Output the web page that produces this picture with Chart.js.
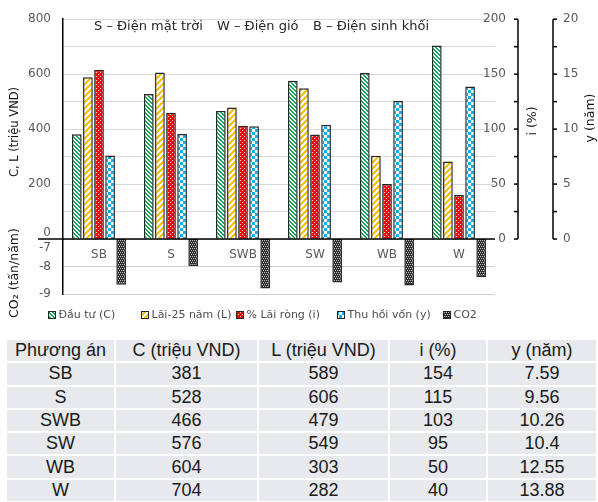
<!DOCTYPE html>
<html>
<head>
<meta charset="utf-8">
<script src="https://cdn.jsdelivr.net/npm/chart.js@4.4.1/dist/chart.umd.min.js"></script>
<style>
  html, body { margin: 0; padding: 0; background: #fff; width: 598px; height: 502px; overflow: hidden; }
  #wrap { position: relative; width: 598px; height: 502px; }
  #chart { position: absolute; left: 0; top: 0; }
  #tbl {
    position: absolute; left: 5px; top: 338px;
    border-collapse: separate; border-spacing: 2px;
    font-family: "Liberation Sans", Arial, sans-serif; font-size: 18px; color: #1a1a1a;
  }
  #tbl td { background: #e7e9ec; height: 21.3px; padding: 0; text-align: center; line-height: 21px; white-space: nowrap; }
</style>
</head>
<body>
<div id="wrap">
  <canvas id="chart" width="598" height="336"></canvas>
  <table id="tbl"></table>
</div>
<script>
// Scenarios and their results
const categories = ['SB', 'S', 'SWB', 'SW', 'WB', 'W'];
const investC   = [381, 528, 466, 576, 604, 704];      // triệu VND
const profitL   = [589, 606, 479, 549, 303, 282];      // triệu VND
const netRateI  = [154, 115, 103, 95, 50, 40];         // %
const paybackY  = [7.59, 9.56, 10.26, 10.4, 12.55, 13.88]; // năm
const co2       = [-8.66, -7.98, -8.80, -8.58, -8.69, -8.39]; // tấn/năm

const seriesNames = ['Đầu tư (C)', 'Lãi-25 năm (L)', '% Lãi ròng (i)', 'Thu hồi vốn (y)', 'CO2'];
const sourceNotes = ['S – Điện mặt trời', 'W – Điện gió', 'B – Điện sinh khối'];
const tableHeader = ['Phương án', 'C (triệu VND)', 'L (triệu VND)', 'i (%)', 'y (năm)'];
const leftTicksCL  = [0, 200, 400, 600, 800];
const leftTicksCO2 = [-7, -8, -9];
const ticksI = [0, 50, 100, 150, 200];
const ticksY = [0, 5, 10, 15, 20];

const FONT = '"DejaVu Sans", Verdana, sans-serif';
const GREY_TEXT = '#595959';

// ---------- fill patterns ----------
function tile(w, h, paint) {
  const c = document.createElement('canvas');
  c.width = w; c.height = h;
  const g = c.getContext('2d');
  paint(g, w, h);
  return g.createPattern(c, 'repeat');
}
const patGreen = tile(4, 4, (g, w, h) => {
  g.fillStyle = '#fff'; g.fillRect(0, 0, w, h);
  g.fillStyle = '#00a651';
  for (let y = 0; y < h; y++) { g.fillRect(y % w, y, 1, 1); g.fillRect((y + 1) % w, y, 1, 1); }
});
const patYellow = tile(6, 6, (g, w, h) => {
  g.fillStyle = '#fff'; g.fillRect(0, 0, w, h);
  g.fillStyle = '#ffc000';
  for (let y = 0; y < h; y++) {
    for (let k = 0; k < 3; k++) g.fillRect(((w - 1 - y) + k + w) % w, y, 1, 1);
  }
});
const patRed = tile(4, 4, (g, w, h) => {
  g.fillStyle = '#ff0000'; g.fillRect(0, 0, w, h);
  g.fillStyle = '#ffd6d6';
  g.fillRect(0, 0, 1, 1); g.fillRect(2, 2, 1, 1);
});
const patBlue = tile(6, 6, (g, w, h) => {
  g.fillStyle = '#fff'; g.fillRect(0, 0, w, h);
  g.fillStyle = '#00b0f0';
  g.fillRect(0, 0, 3, 3); g.fillRect(3, 3, 3, 3);
});
const patDark = tile(4, 4, (g, w, h) => {
  g.fillStyle = '#2e2e2e'; g.fillRect(0, 0, w, h);
  g.fillStyle = '#c8c8c8';
  g.fillRect(0, 0, 1, 1); g.fillRect(2, 0, 1, 1); g.fillRect(1, 2, 1, 1); g.fillRect(3, 2, 1, 1);
});
const fills = [patGreen, patYellow, patRed, patBlue, patDark];

// legend item starting points along the bottom row
const legendX = [48, 141, 236, 337, 443];

// ---------- overlay drawing: zero line, labels, right axes, titles, legend ----------
const overlay = {
  id: 'overlay',
  afterDatasetsDraw(chart) {
    const { ctx, chartArea, scales } = chart;
    const yL = scales.yL, yI = scales.yI, yY = scales.yY, x = scales.x;
    const y0 = yL.getPixelForValue(0);
    ctx.save();

    // zero line, running out past the left axis
    ctx.strokeStyle = '#000'; ctx.lineWidth = 1.5;
    ctx.beginPath(); ctx.moveTo(38, y0); ctx.lineTo(chartArea.right, y0); ctx.stroke();

    // left tick labels that sit around the shared zero line
    ctx.font = '12px ' + FONT; ctx.fillStyle = GREY_TEXT;
    ctx.textAlign = 'right'; ctx.textBaseline = 'middle';
    ctx.fillText(String(leftTicksCL[0]), 51, y0 - 6);
    ctx.fillText(String(leftTicksCO2[0]), 51, y0 + 9);

    // scenario names just under the zero line
    ctx.textAlign = 'center';
    categories.forEach((c, i) => ctx.fillText(c, x.getPixelForValue(i), y0 + 16));

    // notes at the top of the plot
    ctx.font = '13px ' + FONT;
    ctx.fillStyle = '#262626'; ctx.textAlign = 'left';
    const noteX = [94, 217, 313];
    sourceNotes.forEach((t, i) => ctx.fillText(t, noteX[i], 27));

    // i (%) axis
    ctx.font = '12px ' + FONT;
    const xi = 518;
    ctx.strokeStyle = '#000'; ctx.lineWidth = 1.5;
    ctx.beginPath(); ctx.moveTo(xi, yI.getPixelForValue(200)); ctx.lineTo(xi, yI.getPixelForValue(0)); ctx.stroke();
    for (let v = 0; v <= 200; v += 25) {
      const p = yI.getPixelForValue(v);
      ctx.beginPath(); ctx.moveTo(xi - 4, p); ctx.lineTo(xi, p); ctx.stroke();
    }
    ctx.fillStyle = GREY_TEXT; ctx.textAlign = 'right';
    ticksI.forEach(v => ctx.fillText(String(v), 506, yI.getPixelForValue(v)));

    // y (năm) axis
    const xy = 553;
    ctx.beginPath(); ctx.moveTo(xy, yY.getPixelForValue(20)); ctx.lineTo(xy, yY.getPixelForValue(0)); ctx.stroke();
    for (let v = 0; v <= 20; v += 2.5) {
      const p = yY.getPixelForValue(v);
      ctx.beginPath(); ctx.moveTo(xy, p); ctx.lineTo(xy + 4, p); ctx.stroke();
    }
    ctx.textAlign = 'left';
    ticksY.forEach(v => ctx.fillText(String(v), 563, yY.getPixelForValue(v)));

    // axis titles
    const vText = (t, cx, cy, size) => {
      ctx.save(); ctx.translate(cx, cy); ctx.rotate(-Math.PI / 2);
      ctx.font = size + 'px ' + FONT;
      ctx.textAlign = 'center'; ctx.textBaseline = 'middle'; ctx.fillText(t, 0, 0); ctx.restore();
    };
    ctx.fillStyle = '#111';
    vText('C, L (triệu VND)', 15, 132, 11.5);
    vText('CO₂ (tấn/năm)', 15, 273, 12.5);
    vText('i (%)', 533, 121, 12.5);
    vText('y (năm)', 591, 118, 12.5);

    // legend
    ctx.font = '11px ' + FONT; ctx.textAlign = 'left'; ctx.textBaseline = 'middle';
    const ly = 315;
    chart.data.datasets.forEach((ds, i) => {
      const lx = legendX[i];
      ctx.fillStyle = ds.backgroundColor;
      ctx.fillRect(lx, ly - 4, 8, 8);
      ctx.strokeStyle = '#262626'; ctx.lineWidth = 1;
      ctx.strokeRect(lx + 0.5, ly - 3.5, 7, 7);
      ctx.fillStyle = '#4d4d4d';
      ctx.fillText(ds.label, lx + 10.5, ly);
    });

    ctx.restore();
  }
};

const barCommon = { borderColor: '#262626', borderWidth: 1.5, categoryPercentage: 0.77, barPercentage: 0.875 };

new Chart(document.getElementById('chart'), {
  type: 'bar',
  data: {
    labels: categories,
    datasets: [
      { label: seriesNames[0], data: investC,  yAxisID: 'yL',   backgroundColor: fills[0], ...barCommon },
      { label: seriesNames[1], data: profitL,  yAxisID: 'yL',   backgroundColor: fills[1], ...barCommon },
      { label: seriesNames[2], data: netRateI, yAxisID: 'yI',   backgroundColor: fills[2], ...barCommon },
      { label: seriesNames[3], data: paybackY, yAxisID: 'yY',   backgroundColor: fills[3], ...barCommon },
      { label: seriesNames[4], data: co2,      yAxisID: 'yCO2', backgroundColor: fills[4], ...barCommon }
    ]
  },
  options: {
    responsive: false,
    animation: false,
    layout: { padding: { left: 0, right: 103, top: 14, bottom: 42 } },
    plugins: { legend: { display: false }, tooltip: { enabled: false } },
    scales: {
      x: { type: 'category', display: false, offset: true, grid: { display: false } },
      yL: {
        type: 'linear', position: 'left', stack: 'left', stackWeight: 224, weight: 2,
        min: 0, max: 800,
        ticks: {
          stepSize: 100, padding: 12, autoSkip: false, color: GREY_TEXT, font: { family: FONT, size: 12 },
          callback: v => (v > 0 && leftTicksCL.includes(v)) ? String(v) : ''
        },
        grid: { color: '#d9d9d9', lineWidth: 1, drawTicks: false },
        border: { display: true, color: '#000', width: 1.5 },
        afterFit: s => { s.width = 63; }
      },
      yCO2: {
        type: 'linear', position: 'left', stack: 'left', stackWeight: 56, weight: 1,
        min: -9, max: -7,
        afterBuildTicks: s => { s.ticks = leftTicksCO2.map(v => ({ value: v })); },
        ticks: {
          padding: 12, autoSkip: false, color: GREY_TEXT, font: { family: FONT, size: 12 },
          callback: v => (v !== leftTicksCO2[0]) ? String(v) : ''
        },
        grid: { color: '#d0d0d0', lineWidth: 1, drawTicks: false },
        border: { display: true, color: '#000', width: 1.5 },
        afterFit: s => { s.width = 63; }
      },
      yI: { type: 'linear', position: 'right', display: false, min: -50, max: 200 },
      yY: { type: 'linear', position: 'right', display: false, min: -5, max: 20 }
    }
  },
  plugins: [overlay]
});

// results table
const tbl = document.getElementById('tbl');
const colW = [107, 141, 129, 96, 108];
let html = '<tr>' + tableHeader.map((h, i) => `<td style="width:${colW[i]}px">${h}</td>`).join('') + '</tr>';
categories.forEach((c, i) => {
  html += `<tr><td>${c}</td><td>${investC[i]}</td><td>${profitL[i]}</td><td>${netRateI[i]}</td><td>${paybackY[i]}</td></tr>`;
});
tbl.innerHTML = html;
</script>
</body>
</html>
